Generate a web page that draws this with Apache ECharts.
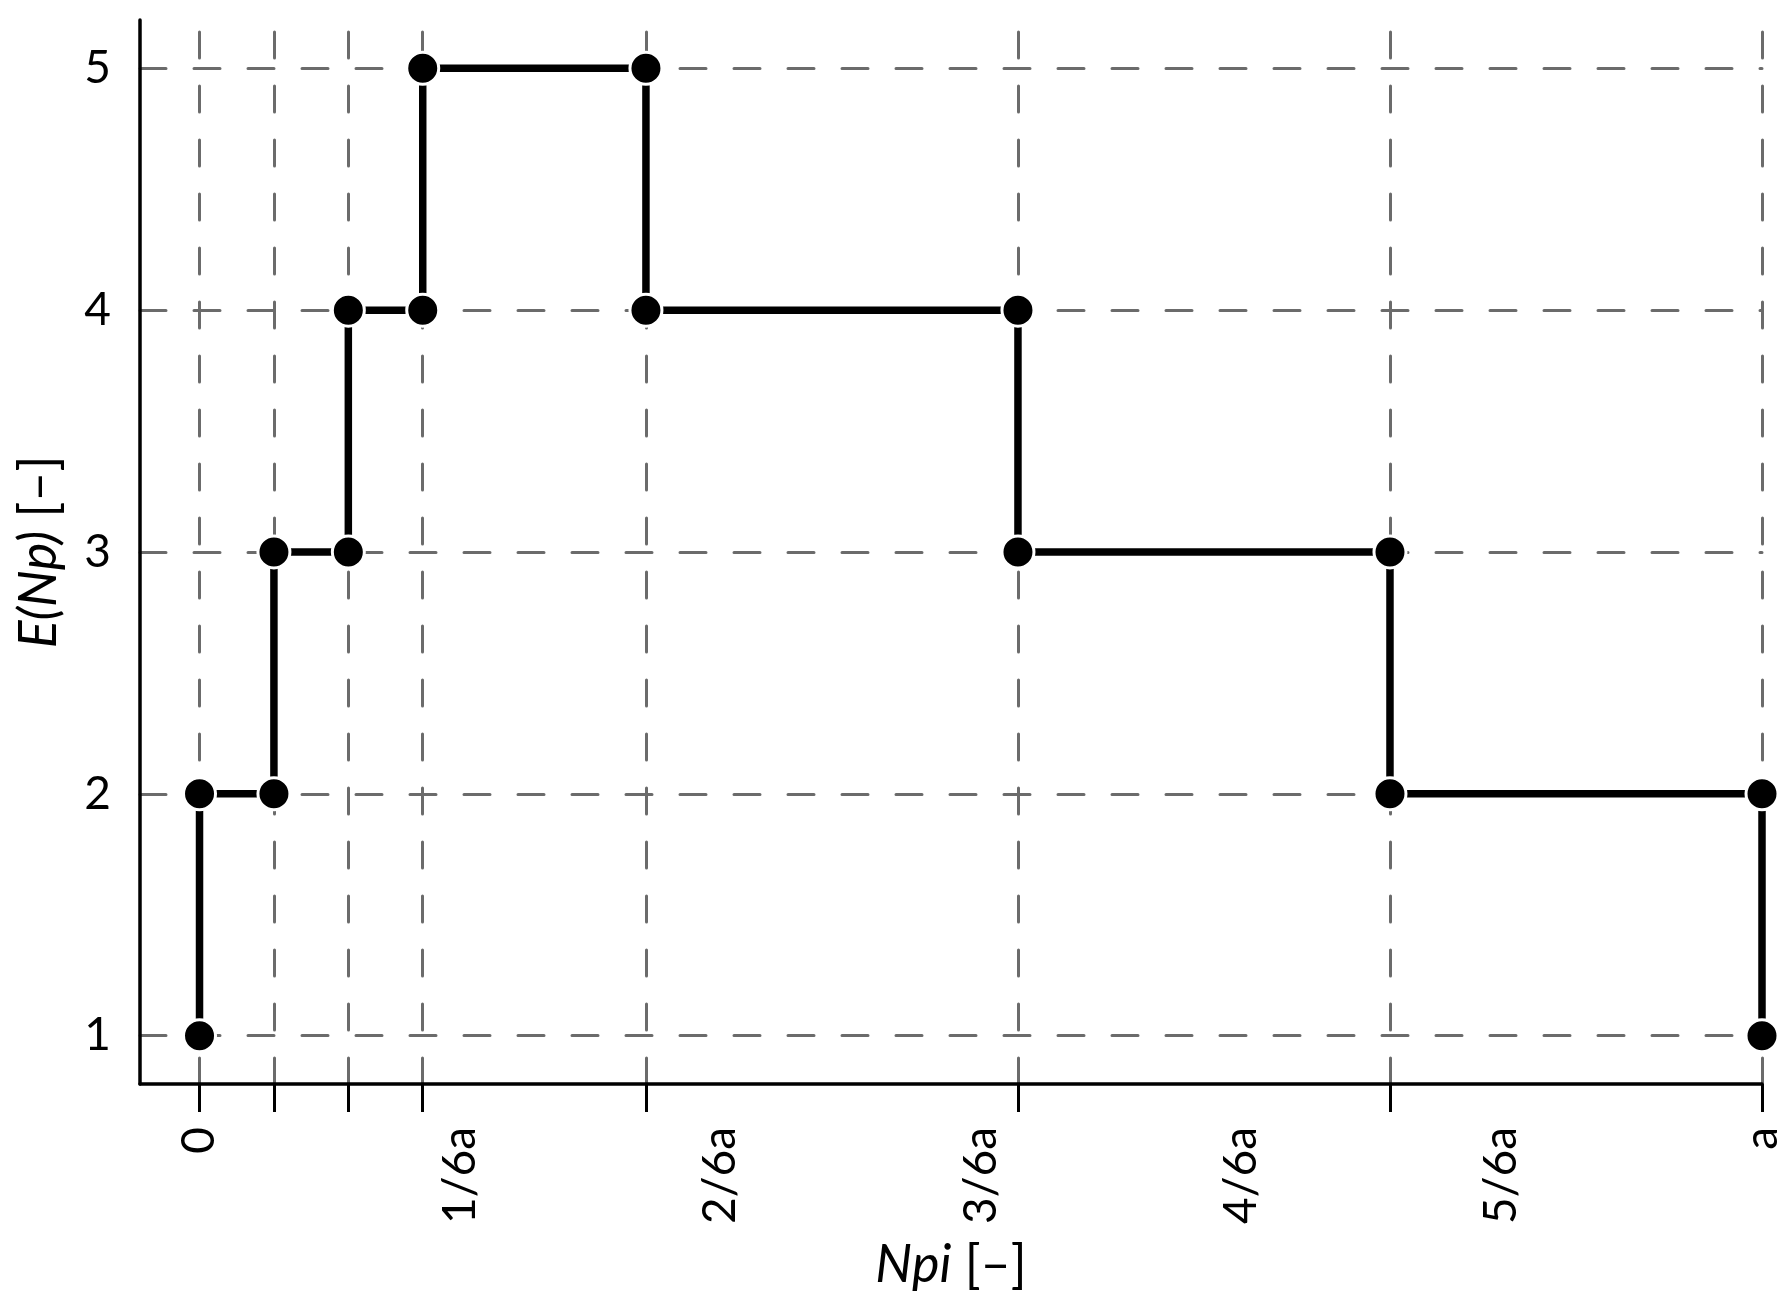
<!DOCTYPE html>
<html><head><meta charset="utf-8">
<script src="https://cdn.jsdelivr.net/npm/echarts@6/dist/echarts.min.js"></script>
<style>html,body{margin:0;padding:0;background:#fff}#c{width:1792px;height:1309px}</style>
</head><body><div id="c"></div>
<script>
// x values in units of a/21
const npi = [0,0,1,1,2,2,3,3,6,6,11,11,16,16,21,21];
const eNp = [1,2,2,3,3,4,4,5,5,4,4,3,3,2,2,1];
const xTickValues = [0,1,2,3,6,11,16,21];
const xLabelValues = [0,3.5,7,10.5,14,17.5,21];
const xLabelTexts = ['0','1/6a','2/6a','3/6a','4/6a','5/6a','a'];
const yTickValues = [1,2,3,4,5];
const X_MIN = -0.8, X_MAX = 21, Y_MIN = 0.8, Y_MAX = 5.2;

const points = npi.map((x,i)=>[x,eNp[i]]);
const gridStyle = {color:'#6b6b6b', width:3, type:[26,28], cap:'round'};
const vLines = xTickValues.map(v=>[{coord:[v,Y_MIN]},{coord:[v,Y_MAX]}]);
const hLines = yTickValues.map(v=>[{coord:[X_MIN,v]},{coord:[X_MAX,v]}]);
const FONT = 'Lato';

const chart = echarts.init(document.getElementById('c'), null, {renderer:'canvas'});
chart.setOption({
  animation:false,
  backgroundColor:'#fff',
  grid:{left:140, right:30, top:20, bottom:225, containLabel:false},
  xAxis:{
    type:'value', min:X_MIN, max:X_MAX, z:2,
    axisLine:{show:true, onZero:false, lineStyle:{color:'#000', width:3.5}},
    axisTick:{show:true, customValues:xTickValues, length:28, lineStyle:{color:'#000', width:3}},
    axisLabel:{customValues:xLabelValues, rotate:90, margin:43, fontSize:46, fontFamily:FONT, color:'#000',
      formatter:function(v){
        let best=0; for(let i=0;i<xLabelValues.length;i++){ if(Math.abs(xLabelValues[i]-v)<Math.abs(xLabelValues[best]-v)) best=i; }
        return xLabelTexts[best];
      }},
    splitLine:{show:false},
    name:'{i|Npi} [–]', nameLocation:'middle', nameGap:155,
    nameTextStyle:{fontSize:52, fontFamily:FONT, color:'#000', rich:{i:{fontSize:52, fontFamily:FONT, fontStyle:'italic', color:'#000'}}}
  },
  yAxis:{
    type:'value', min:Y_MIN, max:Y_MAX, z:2,
    axisLine:{show:true, onZero:false, lineStyle:{color:'#000', width:3.5}},
    axisTick:{show:false},
    axisLabel:{customValues:yTickValues, margin:29, fontSize:46, fontFamily:FONT, color:'#000'},
    splitLine:{show:false},
    name:'{i|E(Np)} [–]', nameLocation:'middle', nameGap:75, nameRotate:90,
    nameTextStyle:{fontSize:52, fontFamily:FONT, color:'#000', rich:{i:{fontSize:52, fontFamily:FONT, fontStyle:'italic', color:'#000'}}}
  },
  series:[{
    type:'line', data:points, z:3,
    symbol:'circle', symbolSize:32, showAllSymbol:true,
    lineStyle:{color:'#000', width:7.5},
    itemStyle:{color:'#000', borderColor:'#fff', borderWidth:3},
    emphasis:{disabled:true},
    markLine:{silent:true, symbol:'none', z:1, animation:false, label:{show:false},
      lineStyle:gridStyle, emphasis:{disabled:true}, data:vLines.concat(hLines)}
  }]
});
</script></body></html>
